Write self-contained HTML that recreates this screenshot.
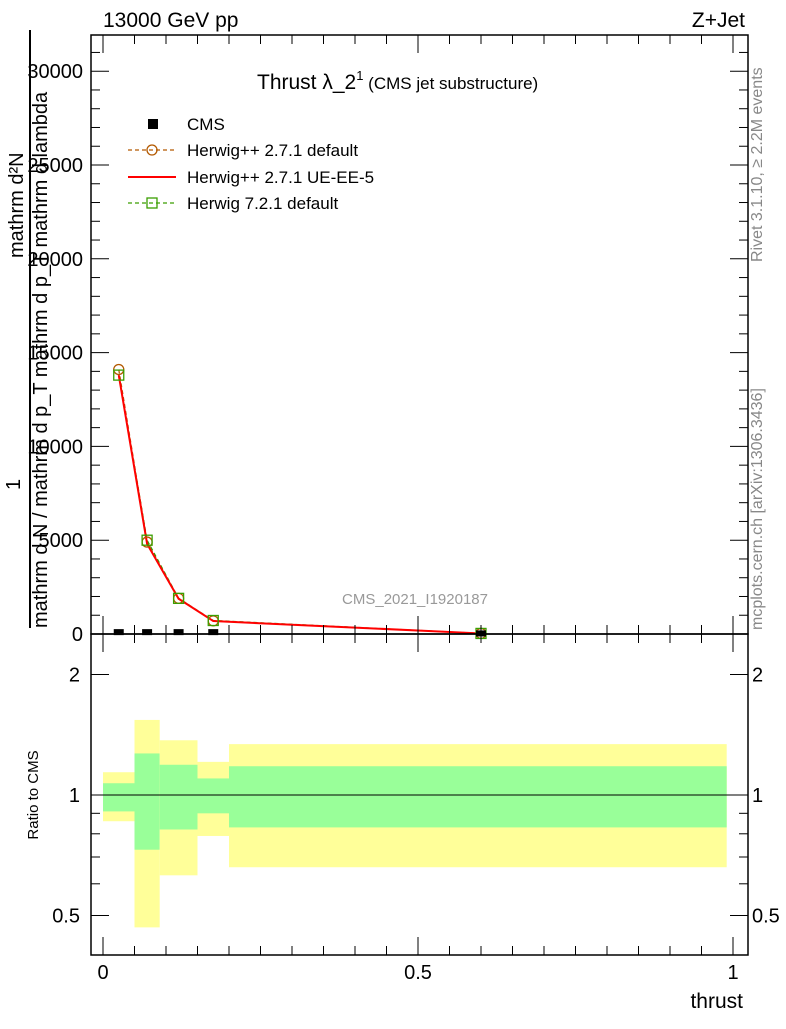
<!DOCTYPE html>
<html><head><meta charset="utf-8">
<style>
body{margin:0;background:#fff;}
svg{font-family:"Liberation Sans",sans-serif;}
</style></head>
<body>
<svg id="c" width="786" height="1024" viewBox="0 0 786 1024" xmlns="http://www.w3.org/2000/svg">
<g id="bands"></g>
<g id="marks"></g>
<g id="axes"></g>
<text x="103" y="27" font-size="21">13000 GeV pp</text>
<text x="745" y="27" font-size="21" text-anchor="end">Z+Jet</text>
<text x="257" y="89" font-size="21">Thrust λ_2<tspan font-size="13" dy="-9">1</tspan><tspan font-size="17" dy="9"> (CMS jet substructure)</tspan></text>
<text x="415" y="604" font-size="15" fill="#999" text-anchor="middle">CMS_2021_I1920187</text>
<text x="762" y="262" font-size="16" fill="#888" transform="rotate(-90 762 262)">Rivet 3.1.10, ≥ 2.2M events</text>
<text x="762" y="630" font-size="16" fill="#888" transform="rotate(-90 762 630)">mcplots.cern.ch [arXiv:1306.3436]</text>
<text x="743" y="1008" font-size="21" text-anchor="end">thrust</text>
<text x="38" y="795" font-size="15" text-anchor="middle" transform="rotate(-90 38 795)">Ratio to CMS</text>
<g font-size="20">
 <text x="23" y="258" transform="rotate(-90 23 258)">mathrm d²N</text>
 <line x1="30" y1="30" x2="30" y2="628" stroke="#000" stroke-width="2"/>
 <text x="47" y="628" transform="rotate(-90 47 628)">mathrm d N / mathrm d p_T mathrm d p_T mathrm d lambda</text>
 <text x="20" y="490" transform="rotate(-90 20 490)">1</text>
</g>
<g font-size="17">
 <rect x="148" y="119" width="10" height="10" fill="#000"/>
 <text x="187" y="130">CMS</text>
 <line x1="128" y1="150" x2="176" y2="150" stroke="#b35900" stroke-dasharray="4,3" stroke-width="1.3"/>
 <circle cx="152" cy="150" r="5" fill="none" stroke="#b35900" stroke-width="1.3"/>
 <text x="187" y="156">Herwig++ 2.7.1 default</text>
 <line x1="128" y1="177" x2="176" y2="177" stroke="#f00" stroke-width="2"/>
 <text x="187" y="183">Herwig++ 2.7.1 UE-EE-5</text>
 <line x1="128" y1="203" x2="176" y2="203" stroke="#3a9e00" stroke-dasharray="4,3" stroke-width="1.3"/>
 <rect x="147" y="198" width="10" height="10" fill="none" stroke="#3a9e00" stroke-width="1.3"/>
 <text x="187" y="209">Herwig 7.2.1 default</text>
</g>
</svg>
<script>
const binEdges=[0,0.05,0.09,0.15,0.2,0.99];
const xCenters=[0.025,0.07,0.12,0.175,0.6];
const cmsVals=[100,100,100,100,30];
const herwigppDefault=[14100,4900,1900,700,30];
const herwigppUE=[13800,4800,1880,690,30];
const herwig7Default=[13800,5000,1900,720,30];
const yellowHi=[1.14,1.54,1.37,1.21,1.34];
const yellowLo=[0.86,0.467,0.63,0.79,0.66];
const greenHi=[1.07,1.27,1.19,1.10,1.18];
const greenLo=[0.91,0.73,0.82,0.90,0.83];
const yTicks=[0,5000,10000,15000,20000,25000,30000];
const yTickLabels=["0","5000","10000","15000","20000","25000","30000"];
const xTicks=[0,0.5,1];
const xTickLabels=["0","0.5","1"];
const rTicks=[0.5,1,2];
const rTickLabels=["0.5","1","2"];

const NS="http://www.w3.org/2000/svg";
const L=91,R=748,T=35,MB=634,RB=955;
const X=v=>103+v*630;
const Y=v=>634-v*0.01876;
const RY=v=>795-Math.log2(v)*120.5;
function mk(par,tag,at){const e=document.createElementNS(NS,tag);for(const k in at)e.setAttribute(k,at[k]);document.getElementById(par).appendChild(e);return e;}

for(let i=0;i<xCenters.length;i++){
 const x0=X(binEdges[i]),x1=X(binEdges[i+1]);
 let e=mk('bands','rect',{x:x0,y:RY(yellowHi[i]),width:x1-x0,height:RY(yellowLo[i])-RY(yellowHi[i]),fill:'#ffff99'});
 
 
 e=mk('bands','rect',{x:x0,y:RY(greenHi[i]),width:x1-x0,height:RY(greenLo[i])-RY(greenHi[i]),fill:'#99ff99'});
 
 
}
let e=mk('bands','line',{x1:X(0),x2:X(1),y1:RY(1),y2:RY(1),stroke:'#000','stroke-width':1});



function pts(a){return xCenters.map((x,i)=>X(x)+','+Y(a[i])).join(' ');}
e=mk('marks','polyline',{points:pts(herwigppDefault),fill:'none',stroke:'#b35900','stroke-dasharray':'4,3','stroke-width':1.3});


e=mk('marks','polyline',{points:pts(herwig7Default),fill:'none',stroke:'#3a9e00','stroke-dasharray':'4,3','stroke-width':1.3});


e=mk('marks','polyline',{points:pts(herwigppUE),fill:'none',stroke:'#f00','stroke-width':2});


xCenters.forEach((x,i)=>{
 let c=mk('marks','circle',{cx:X(x),cy:Y(herwigppDefault[i]),r:5,fill:'none',stroke:'#b35900','stroke-width':1.3});
 
 
 let s=mk('marks','rect',{x:X(x)-5,y:Y(herwig7Default[i])-5,width:10,height:10,fill:'none',stroke:'#3a9e00','stroke-width':1.3});
 
 
 let d=mk('marks','rect',{x:X(x)-5,y:Y(cmsVals[i])-3,width:10,height:6,fill:'#000'});
 
 
});

e=mk('axes','rect',{x:L,y:T,width:R-L,height:MB-T,fill:'none',stroke:'#000','stroke-width':1.5});


e=mk('axes','rect',{x:L,y:MB,width:R-L,height:RB-MB,fill:'none',stroke:'#000','stroke-width':1.5});


for(let v=0;v<=31000;v+=1000){
 const big=v%5000===0,len=big?18:9,y=Y(v);
 mk('axes','line',{x1:L,x2:L+len,y1:y,y2:y,stroke:'#000'});
 mk('axes','line',{x1:R,x2:R-len,y1:y,y2:y,stroke:'#000'});
}
yTicks.forEach((v,i)=>{
 const t=mk('axes','text',{x:83,y:Y(v)+7,'font-size':20,'text-anchor':'end'});t.textContent=yTickLabels[i];
 
 
});
for(let k=0;k<=20;k++){
 const v=k*0.05,big=k%10===0,x=X(v),len=big?18:9;
 [MB,RB].forEach(b=>mk('axes','line',{x1:x,x2:x,y1:b,y2:b-len,stroke:'#000'}));
 [T,MB].forEach(b=>mk('axes','line',{x1:x,x2:x,y1:b,y2:b+len,stroke:'#000'}));
}
xTicks.forEach((v,i)=>{
 const t=mk('axes','text',{x:X(v),y:979,'font-size':20,'text-anchor':'middle'});t.textContent=xTickLabels[i];
 
 
});
[0.5,0.6,0.7,0.8,0.9,1,2].forEach(v=>{
 const big=rTicks.includes(v),len=big?18:9,y=RY(v);
 mk('axes','line',{x1:L,x2:L+len,y1:y,y2:y,stroke:'#000'});
 mk('axes','line',{x1:R,x2:R-len,y1:y,y2:y,stroke:'#000'});
});
rTicks.forEach((v,i)=>{
 let t=mk('axes','text',{x:80,y:RY(v)+7,'font-size':20,'text-anchor':'end'});t.textContent=rTickLabels[i];
 
 
 t=mk('axes','text',{x:752,y:RY(v)+7,'font-size':20});t.textContent=rTickLabels[i];
 
 
});
</script>
</body></html>
